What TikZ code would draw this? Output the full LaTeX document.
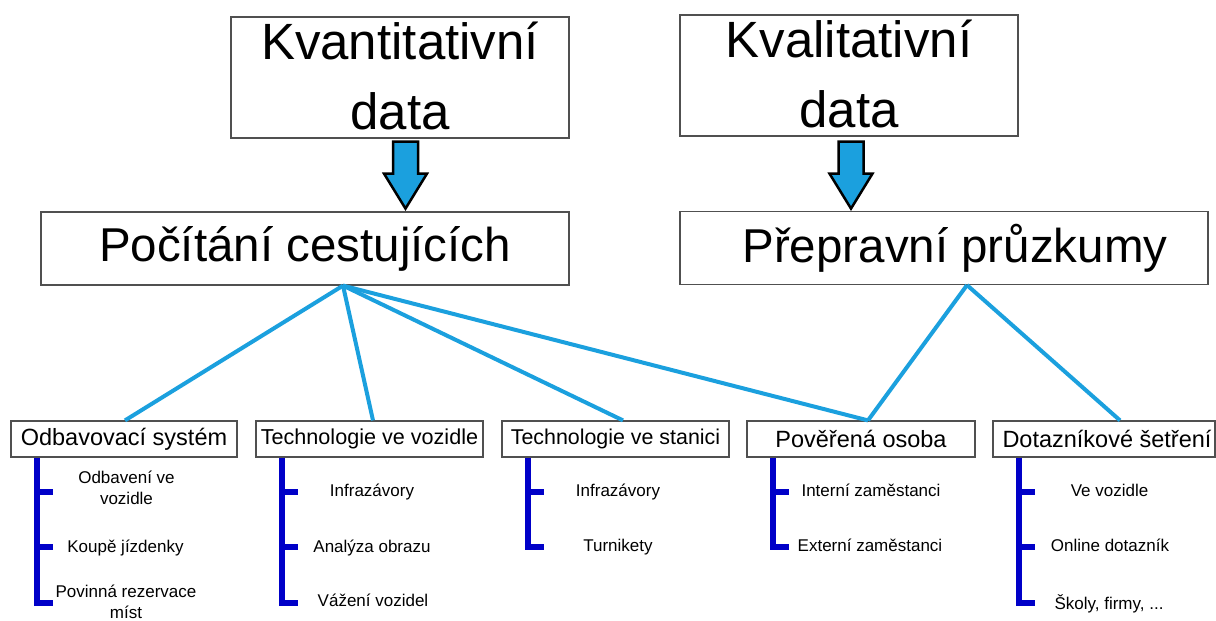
\documentclass[tikz,border=0pt]{standalone}
\usepackage{fontspec}
\setmainfont{Liberation Sans}
\usetikzlibrary{calc}
\definecolor{lblue}{RGB}{27,160,222}
\definecolor{dblue}{RGB}{0,0,200}
\definecolor{bord}{RGB}{80,80,80}
\newcommand{\lowpad}{\rule[-3pt]{0pt}{3pt}}
\begin{document}
\begin{tikzpicture}[x=1pt,y=-1pt,
  box/.style={draw=bord,line width=1.2pt,fill=white,inner sep=0pt,align=center},
  bigbox/.style={box,minimum width=338pt,minimum height=121pt,font=\fontsize{51}{70}\selectfont},
  midbox/.style={box,minimum width=528pt,minimum height=73pt,font=\fontsize{47.5}{57}\selectfont},
  smallbox/.style={box,minimum height=36pt,font=\fontsize{23.5}{28}\selectfont},
  conn/.style={lblue,line width=4pt},
  bracket/.style={dblue,line width=6pt},
  item/.style={inner sep=0pt,align=center,font=\fontsize{17}{21}\selectfont},
  blockarrow/.style={fill=lblue,draw=black,line width=2.5pt,line join=miter}]
\useasboundingbox (0,0) rectangle (1216,621);

% top boxes
\node[bigbox] (kvant) at (400,77.5) {Kvantitativní\\data\lowpad};
\node[bigbox] (kval) at (849,75.5) {Kvalitativní\\data\lowpad};

% middle boxes
\node[midbox] (poc) at (305,248.5) {Počítání cestujících};
\node[midbox] (prep) at (944,248) {\hspace*{22pt}Přepravní průzkumy};

% block arrows
\coordinate (a1) at ($(kvant.south)+(5.5,3)$);
\coordinate (a2) at ($(kval.south)+(2,5)$);
\foreach \a in {a1,a2}{
  \draw[blockarrow] ($(\a)+(-12.5,0)$) -- ($(\a)+(12.5,0)$) -- ($(\a)+(12.5,32)$)
    -- ($(\a)+(21.5,32)$) -- ($(\a)+(0,67)$) -- ($(\a)+(-21.5,32)$)
    -- ($(\a)+(-12.5,32)$) -- cycle;
}

% bottom boxes
\node[smallbox,minimum width=226pt] (odb) at (124,439) {Odbavovací systém};
\node[smallbox,minimum width=227pt,font=\fontsize{21.6}{26}\selectfont] (tvv) at (369.5,439) {Technologie ve vozidle};
\node[smallbox,minimum width=227pt,font=\fontsize{21.4}{26}\selectfont] (tvs) at (615.5,439) {Technologie ve stanici};
\node[smallbox,minimum width=228pt] (pov) at (861,439) {Pověřená osoba};
\node[smallbox,minimum width=222pt] (dot) at (1104,439) {\hspace*{6pt}Dotazníkové šetření};

% connectors
\coordinate (pa) at ($(poc.south)+(38,0)$);
\coordinate (pb) at ($(prep.south)+(23,0)$);
\draw[conn] (pa) -- ($(odb.north)+(1,0)$);
\draw[conn] (pa) -- ($(tvv.north)+(3.5,0)$);
\draw[conn] (pa) -- ($(tvs.north)+(7.5,0)$);
\draw[conn] (pa) -- ($(pov.north)+(7,0)$);
\draw[conn] (pb) -- ($(pov.north)+(7,0)$);
\draw[conn] (pb) -- ($(dot.north)+(16,0)$);

% brackets
\foreach \b/\n in {odb/3,tvv/3,tvs/2,pov/2,dot/3}{
  \ifnum\n=3
    \draw[bracket] ($(\b.south west)+(27,0)$) -- ++(0,145) -- ++(16,0);
    \draw[bracket] ($(\b.south west)+(27,34)$) -- ++(16,0);
    \draw[bracket] ($(\b.south west)+(27,89)$) -- ++(16,0);
  \else
    \draw[bracket] ($(\b.south west)+(27,0)$) -- ++(0,89) -- ++(16,0);
    \draw[bracket] ($(\b.south west)+(27,34)$) -- ++(16,0);
  \fi
}

% items
\node[item] (i11) at (126.5,488) {Odbavení ve\\vozidle};
\node[item,anchor=base] (i12) at (125.5,552) {Koupě jízdenky};
\node[item] (i13) at (126,601.5) {Povinná rezervace\\míst};

\node[item,anchor=base] (i21) at (372,496) {Infrazávory};
\node[item,anchor=base] (i22) at (372,552) {Analýza obrazu};
\node[item,anchor=base] (i23) at (373,606) {Vážení vozidel};

\node[item,anchor=base] (i31) at (618,496) {Infrazávory};
\node[item,anchor=base] (i32) at (618,551) {Turnikety};

\node[item,anchor=base] (i41) at (871,496) {Interní zaměstanci};
\node[item,anchor=base] (i42) at (870,551) {Externí zaměstanci};

\node[item,anchor=base] (i51) at (1109.5,496) {Ve vozidle};
\node[item,anchor=base] (i52) at (1110,551) {Online dotazník};
\node[item,anchor=base] (i53) at (1109,609) {Školy, firmy, ...};
\end{tikzpicture}
\end{document}
